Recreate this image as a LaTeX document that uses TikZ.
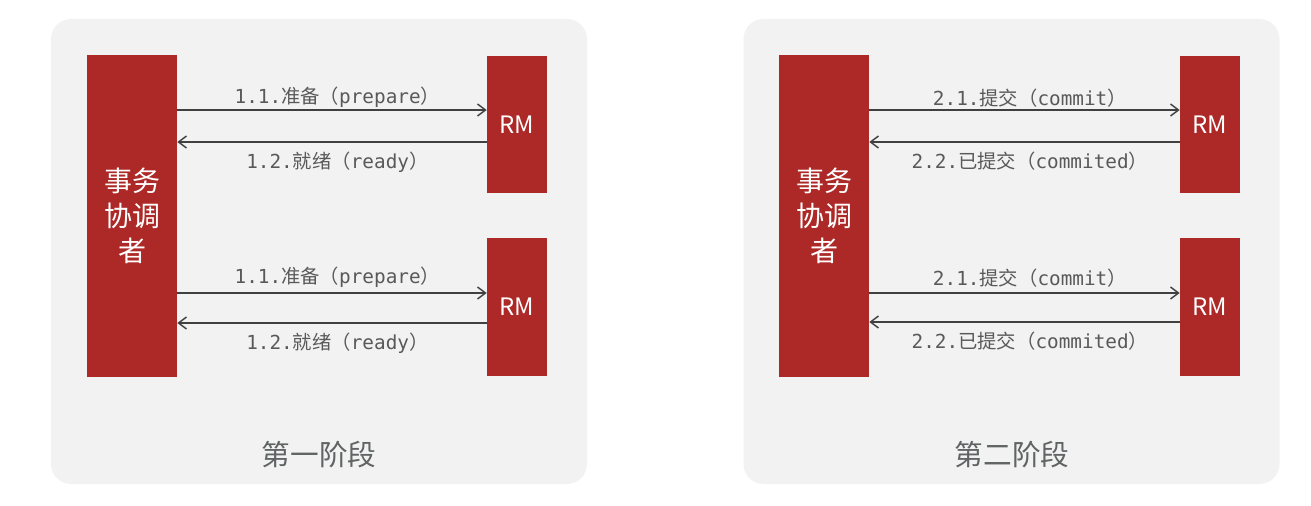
\documentclass[tikz,border=0pt]{standalone}
\usepackage{fontspec}
\setmonofont{DejaVu Sans Mono}
\newfontfamily\cjk{Noto Sans CJK SC}
\usepackage{xcolor}
\definecolor{boxred}{RGB}{173,41,39}
\definecolor{panelgray}{RGB}{242,242,242}
\definecolor{msggray}{RGB}{89,89,89}
\definecolor{linegray}{RGB}{64,64,64}
\definecolor{titlegray}{RGB}{96,100,100}
\usepackage{tikz}
\usetikzlibrary{arrows.meta}
\usetikzlibrary{calc}
\newcommand{\msgtext}[3]{{\ttfamily #1}{\cjk #2（}{\ttfamily #3}{\cjk ）}}
\tikzset{
    phasebox/.style={fill=panelgray, rounded corners=15pt, minimum width=402pt, minimum height=348.75pt},
    redbox/.style={fill=boxred, text=white, inner sep=0pt},
    coordbox/.style={redbox, minimum width=67.5pt, minimum height=241.5pt, align=center, font=\cjk\fontsize{21}{26}\selectfont},
    rmbox/.style={redbox, minimum width=45pt, minimum height=102.75pt, font=\cjk\fontsize{18}{20}\selectfont},
    msgline/.style={-{Straight Barb[length=6pt,width=9pt]}, linegray, line width=1.1pt},
    msglabel/.style={text=msggray, inner sep=0pt, xshift=4pt, font=\fontsize{14.5}{17}\selectfont},
    phasetitle/.style={text=titlegray, font=\cjk\fontsize{21.5}{26}\selectfont}
}
\begin{document}
\begin{tikzpicture}[x=0.75pt, y=-0.75pt]
    \useasboundingbox (0,0) rectangle (1311,506);

    % phase one
    \node[phasebox] (phase1) at (319,251.5) {};
    \node[coordbox] (coord1) at (132,216) {事务\\协调\\者};
    \node[rmbox] (rm1a) at (517,125) {RM};
    \node[rmbox] (rm1b) at (517,307) {RM};
    \node[phasetitle] (title1) at (319,455) {第一阶段};

    \coordinate (prep1a) at ($(rm1a.west)+(0,-15)$);
    \coordinate (ready1a) at ($(rm1a.west)+(0,17)$);
    \coordinate (prep1b) at ($(rm1b.west)+(0,-14)$);
    \coordinate (ready1b) at ($(rm1b.west)+(0,16)$);

    \draw[msgline] (coord1.east |- prep1a) -- (prep1a)
        node[msglabel, midway, above=1.4pt] {\msgtext{1.1.}{准备}{prepare}};
    \draw[msgline] (ready1a) -- (coord1.east |- ready1a)
        node[msglabel, midway, below=6.8pt] {\msgtext{1.2.}{就绪}{ready}};
    \draw[msgline] (coord1.east |- prep1b) -- (prep1b)
        node[msglabel, midway, above=3.8pt] {\msgtext{1.1.}{准备}{prepare}};
    \draw[msgline] (ready1b) -- (coord1.east |- ready1b)
        node[msglabel, midway, below=7.2pt] {\msgtext{1.2.}{就绪}{ready}};

    % phase two
    \node[phasebox] (phase2) at (1011.5,251.5) {};
    \node[coordbox] (coord2) at (824,216) {事务\\协调\\者};
    \node[rmbox] (rm2a) at (1210,125) {RM};
    \node[rmbox] (rm2b) at (1210,307) {RM};
    \node[phasetitle] (title2) at (1012,455) {第二阶段};

    \coordinate (commit2a) at ($(rm2a.west)+(0,-15)$);
    \coordinate (done2a) at ($(rm2a.west)+(0,17)$);
    \coordinate (commit2b) at ($(rm2b.west)+(0,-14)$);
    \coordinate (done2b) at ($(rm2b.west)+(0,15)$);

    \draw[msgline] (coord2.east |- commit2a) -- (commit2a)
        node[msglabel, midway, above=1.4pt] {\msgtext{2.1.}{提交}{commit}};
    \draw[msgline] (done2a) -- (coord2.east |- done2a)
        node[msglabel, midway, below=6.8pt] {\msgtext{2.2.}{已提交}{commited}};
    \draw[msgline] (coord2.east |- commit2b) -- (commit2b)
        node[msglabel, midway, above=3.8pt] {\msgtext{2.1.}{提交}{commit}};
    \draw[msgline] (done2b) -- (coord2.east |- done2b)
        node[msglabel, midway, below=7.2pt] {\msgtext{2.2.}{已提交}{commited}};
\end{tikzpicture}
\end{document}
